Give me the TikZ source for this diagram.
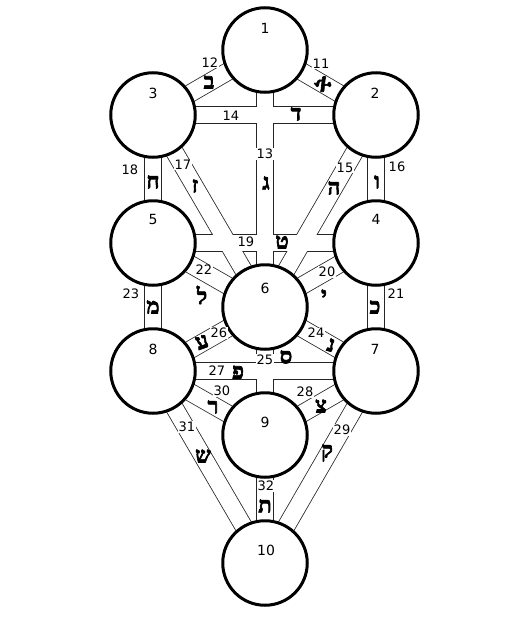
\documentclass[tikz,border=0pt]{standalone}
\usepackage{fontspec}
\setmainfont{DejaVu Sans}
\newfontfamily\heb[Script=Hebrew,FakeBold=3]{Liberation Serif}
\begin{document}
\begin{tikzpicture}[x=1pt,y=-1pt,
  bandout/.style={line width=18.4pt,draw=black!85},
  bandin/.style={line width=16.8pt,draw=white},
  sephira/.style={circle,draw=black,fill=white,line width=3pt,minimum size=84.5pt,inner sep=0pt},
  snum/.style={inner sep=0pt,font=\fontsize{14}{14}\selectfont},
  pnum/.style={fill=white,inner sep=0.6pt,font=\fontsize{13}{13}\selectfont},
  letter/.style={inner sep=0pt,font=\heb\bfseries\fontsize{22}{22}\selectfont}]
\path[use as bounding box,fill=white] (0,0) rectangle (512,640);
% centres
\coordinate (c1) at (265,50);
\coordinate (c2) at (376,115);
\coordinate (c3) at (153,115);
\coordinate (c4) at (376,243);
\coordinate (c5) at (153,243);
\coordinate (c6) at (265,307);
\coordinate (c7) at (376,371);
\coordinate (c8) at (153,371);
\coordinate (c9) at (265,435);
\coordinate (c10) at (265,563);
% paths (bands)
\foreach \a/\b in {c1/c2,c1/c3,c1/c6,c2/c3,c2/c6,c2/c4,c3/c6,c3/c5,c4/c5,c4/c6,c4/c7,c5/c6,c5/c8,c6/c7,c6/c9,c6/c8,c7/c8,c7/c9,c7/c10,c8/c9,c8/c10,c9/c10}
  \draw[bandout] (\a) -- (\b);
\foreach \a/\b in {c1/c2,c1/c3,c1/c6,c2/c3,c2/c6,c2/c4,c3/c6,c3/c5,c4/c5,c4/c6,c4/c7,c5/c6,c5/c8,c6/c7,c6/c9,c6/c8,c7/c8,c7/c9,c7/c10,c8/c9,c8/c10,c9/c10}
  \draw[bandin] (\a) -- (\b);
% sephiroth
\foreach \i in {1,...,10}
  \node[sephira] (n\i) at (c\i) {};
\node[snum] (t1) at (265,28) {1};
\node[snum] (t2) at (375,93) {2};
\node[snum] (t3) at (153,93) {3};
\node[snum] (t4) at (376,219) {4};
\node[snum] (t5) at (153,219) {5};
\node[snum] (t6) at (265,288) {6};
\node[snum] (t7) at (375,349) {7};
\node[snum] (t8) at (153,349) {8};
\node[snum] (t9) at (265,422) {9};
\node[snum] (t10) at (266,550) {10};
% path numbers
\node[pnum] (p11) at (321,64) {11};
\node[pnum] (p12) at (210,63) {12};
\node[pnum] (p13) at (265,154) {13};
\node[pnum] (p14) at (231,116) {14};
\node[pnum] (p15) at (345,168) {15};
\node[pnum] (p16) at (397,167) {16};
\node[pnum] (p17) at (183,165) {17};
\node[pnum] (p18) at (130,170) {18};
\node[pnum] (p19) at (246,242) {19};
\node[pnum] (p20) at (327,272) {20};
\node[pnum] (p21) at (396,294) {21};
\node[pnum] (p22) at (204,270) {22};
\node[pnum] (p23) at (131,294) {23};
\node[pnum] (p24) at (316,333) {24};
\node[pnum] (p25) at (265,360) {25};
\node[pnum] (p26) at (219,333) {26};
\node[pnum] (p27) at (217,371) {27};
\node[pnum] (p28) at (305,392) {28};
\node[pnum] (p29) at (342,430) {29};
\node[pnum] (p30) at (222,391) {30};
\node[pnum] (p31) at (187,427) {31};
\node[pnum] (p32) at (266,486) {32};
% letters
\node[letter,rotate=-50] (l11) at (323,84) {א};
\node[letter] (l12) at (209,82) {ב};
\node[letter] (l13) at (266,183) {ג};
\node[letter] (l14) at (296,114) {ד};
\node[letter] (l15) at (334,188) {ה};
\node[letter] (l16) at (377,182) {ו};
\node[letter] (l17) at (195,186) {ז};
\node[letter] (l18) at (153,182) {ח};
\node[letter] (l19) at (282,242) {ט};
\node[letter] (l20) at (324,296) {י};
\node[letter] (l21) at (375,307) {כ};
\node[letter] (l22) at (202,295) {ל};
\node[letter] (l23) at (153,307) {מ};
\node[letter,rotate=-15] (l24) at (331,345) {נ};
\node[letter] (l25) at (286,357) {ס};
\node[letter,rotate=20] (l26) at (202,342) {ע};
\node[letter] (l27) at (238,372) {פ};
\node[letter] (l28) at (321,406) {צ};
\node[letter] (l29) at (327,453) {ק};
\node[letter] (l30) at (213,407) {ר};
\node[letter] (l31) at (203,456) {ש};
\node[letter] (l32) at (265,506) {ת};
\end{tikzpicture}
\end{document}
